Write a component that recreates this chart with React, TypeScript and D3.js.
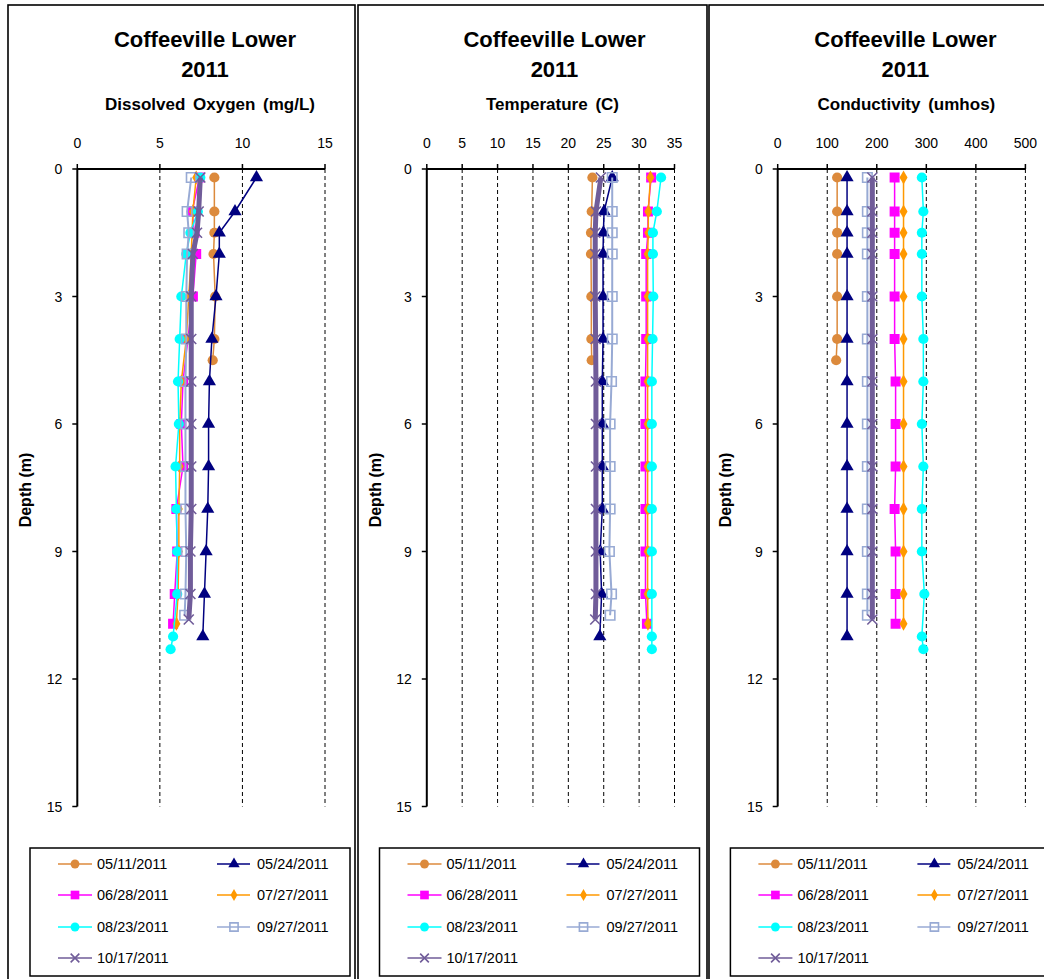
import React from "react";
import * as d3 from "d3";

// ---------- data ----------
const seriesNames = ["05/11/2011", "05/24/2011", "06/28/2011", "07/27/2011", "08/23/2011", "09/27/2011", "10/17/2011"];

const depth0511 = [0.2, 1, 1.5, 2, 3, 4, 4.5];
const depth0524 = [0.2, 1, 1.5, 2, 3, 4, 5, 6, 7, 8, 9, 10, 11];
const depth0628 = [0.2, 1, 1.5, 2, 3, 4, 5, 6, 7, 8, 9, 10, 10.7];
const depth0727 = [0.2, 1, 1.5, 2, 3, 4, 5, 6, 7, 8, 9, 10, 10.7];
const depth0823 = [0.2, 1, 1.5, 2, 3, 4, 5, 6, 7, 8, 9, 10, 11, 11.3];
const depth0927 = [0.2, 1, 1.5, 2, 3, 4, 5, 6, 7, 8, 9, 10, 10.5];
const depth1017 = [0.2, 1, 1.5, 2, 3, 4, 5, 6, 7, 8, 9, 10, 10.6];

const do0511 = [8.3, 8.3, 8.3, 8.25, 8.35, 8.3, 8.2];
const do0524 = [10.85, 9.55, 8.6, 8.6, 8.4, 8.15, 8.0, 7.95, 7.95, 7.9, 7.8, 7.7, 7.6];
const do0628 = [7.4, 6.95, 7.1, 7.2, 7.0, 6.7, 6.4, 6.3, 6.4, 6.0, 6.05, 5.9, 5.8];
const do0727 = [7.2, 7.0, 6.95, 6.9, 6.75, 6.6, 6.3, 6.2, 6.2, 6.15, 6.15, 6.1, 6.0];
const do0823 = [7.45, 7.3, 6.85, 6.6, 6.3, 6.2, 6.1, 6.15, 5.95, 6.0, 6.05, 6.05, 5.8, 5.65];
const do0927 = [6.9, 6.65, 6.75, 6.65, 6.6, 6.6, 6.55, 6.55, 6.55, 6.55, 6.6, 6.55, 6.5];
const do1017 = [7.45, 7.35, 7.25, 7.0, 6.9, 6.9, 6.9, 6.9, 6.9, 6.9, 6.85, 6.85, 6.75];

const temp0511 = [23.4, 23.3, 23.2, 23.2, 23.25, 23.25, 23.3];
const temp0524 = [26.2, 25.05, 24.95, 24.9, 24.9, 24.9, 24.8, 24.8, 24.8, 24.8, 24.5, 24.7, 24.45];
const temp0628 = [31.7, 31.25, 31.25, 31.0, 31.0, 31.0, 30.9, 30.9, 30.9, 30.9, 30.9, 30.9, 31.1];
const temp0727 = [31.6, 31.3, 31.3, 31.2, 31.2, 31.2, 31.2, 31.2, 31.2, 31.2, 31.2, 31.2, 31.25];
const temp0823 = [33.1, 32.5, 31.95, 31.95, 32.0, 31.9, 31.8, 31.8, 31.8, 31.8, 31.8, 31.8, 31.8, 31.8];
const temp0927 = [26.2, 26.2, 26.2, 26.2, 26.2, 26.2, 26.1, 25.9, 25.9, 25.9, 25.8, 26.1, 25.9];
const temp1017 = [24.6, 23.9, 23.8, 23.8, 23.8, 23.85, 23.9, 23.9, 23.9, 23.9, 23.9, 23.9, 23.8];

const cond0511 = [120, 120, 120, 120, 120, 120, 118];
const cond0524 = [140, 140, 140, 140, 140, 140, 140, 140, 140, 140, 140, 140, 140];
const cond0628 = [236, 236, 236, 236, 236, 236, 238, 238, 238, 236, 238, 238, 238];
const cond0727 = [254, 254, 254, 254, 254, 254, 254, 254, 254, 254, 254, 254, 254];
const cond0823 = [291, 294, 291, 291, 291, 294, 294, 291, 294, 291, 291, 296, 291, 294];
const cond0927 = [181, 181, 181, 181, 181, 181, 181, 181, 181, 181, 181, 181, 181];
const cond1017 = [191, 191, 191, 191, 191, 191, 191, 191, 191, 191, 191, 191, 191];

const depthTicks = [0, 3, 6, 9, 12, 15];
const doTicks = [0, 5, 10, 15];
const tempTicks = [0, 5, 10, 15, 20, 25, 30, 35];
const condTicks = [0, 100, 200, 300, 400, 500];

const chartTitle = "Coffeeville Lower";
const chartYear = "2011";
const panelTitles = ["Dissolved Oxygen (mg/L)", "Temperature (C)", "Conductivity (umhos)"];
const depthLabel = "Depth (m)";

// ---------- styles ----------
const depths = [depth0511, depth0524, depth0628, depth0727, depth0823, depth0927, depth1017];
const colors = ["#DC8A3C", "#000080", "#FF00FF", "#FF9900", "#00FFFF", "#98AAD4", "#705C99"];
const markerKinds = ["circle", "triangle", "square", "diamond", "circle", "openSquare", "x"];
const plotLineWidths = [1.5, 1.5, 1.5, 1.5, 1.5, 2, 5];

const FONT = "'Liberation Sans', Arial, sans-serif";

const panelDefs = [
  { values: [do0511, do0524, do0628, do0727, do0823, do0927, do1017], ticks: doTicks, dx: 0, sub: 210 },
  { values: [temp0511, temp0524, temp0628, temp0727, temp0823, temp0927, temp1017], ticks: tempTicks, dx: 349.5, sub: 203 },
  { values: [cond0511, cond0524, cond0628, cond0727, cond0823, cond0927, cond1017], ticks: condTicks, dx: 700.4, sub: 206 },
];

function Marker({ kind, x, y, color, scale = 1 }: { kind: string; x: number; y: number; color: string; scale?: number }) {
  if (kind === "circle") {
    return <path transform={`translate(${x},${y})`} d={d3.symbol(d3.symbolCircle, 82 * scale)()!} fill={color} />;
  }
  if (kind === "triangle") {
    return <path transform={`translate(${x},${y})`} d={d3.symbol(d3.symbolTriangle, 75 * scale)()!} fill={color} />;
  }
  if (kind === "square") {
    return <path transform={`translate(${x},${y})`} d={d3.symbol(d3.symbolSquare, 100 * scale)()!} fill={color} />;
  }
  if (kind === "diamond") {
    return <path transform={`translate(${x},${y})`} d={d3.symbol(d3.symbolDiamond, 55 * scale)()!} fill={color} />;
  }
  if (kind === "openSquare") {
    return (
      <path transform={`translate(${x},${y})`} d={d3.symbol(d3.symbolSquare, 90 * scale)()!} fill="none" stroke={color} strokeWidth={1.6} />
    );
  }
  const s = 5 * Math.sqrt(scale);
  return (
    <path
      d={`M${x - s},${y - s}L${x + s},${y + s}M${x - s},${y + s}L${x + s},${y - s}`}
      stroke={color}
      strokeWidth={1.6}
      fill="none"
    />
  );
}

function Panel({ def, idx }: { def: (typeof panelDefs)[number]; idx: number }) {
  const dx = def.dx;
  const left = 77.3 + dx;
  const right = 325 + dx;
  const top = 169;
  const bottom = 806.5;
  const x = d3.scaleLinear().domain([0, def.ticks[def.ticks.length - 1]]).range([left, right]);
  const y = d3.scaleLinear().domain([0, 15]).range([top, bottom]);
  const line = d3
    .line<[number, number]>()
    .x((d) => x(d[0]))
    .y((d) => y(d[1]));

  const legendRows = [864, 895, 927, 958];
  const legendCols = [
    { l0: 58, l1: 92, m: 75, t: 97 },
    { l0: 217, l1: 250, m: 234, t: 257 },
  ];

  return (
    <g>
      {/* frame */}
      <rect
        x={idx === 0 ? 8 : idx === 1 ? 358 : 709}
        y={5}
        width={idx === 0 ? 347 : idx === 1 ? 349 : 400}
        height={1000}
        fill="none"
        stroke="#000"
        strokeWidth={1.6}
      />
      {/* titles */}
      <text x={205 + dx} y={47} textAnchor="middle" fontFamily={FONT} fontWeight="bold" fontSize={22}>
        {chartTitle}
      </text>
      <text x={205 + dx} y={77} textAnchor="middle" fontFamily={FONT} fontWeight="bold" fontSize={22}>
        {chartYear}
      </text>
      <text x={def.sub + dx} y={110} textAnchor="middle" fontFamily={FONT} fontWeight="bold" fontSize={17} wordSpacing={3}>
        {panelTitles[idx]}
      </text>
      {/* grid */}
      {def.ticks.slice(1).map((t) => (
        <line key={"g" + t} x1={x(t)} x2={x(t)} y1={top} y2={bottom} stroke="#000" strokeWidth={1} strokeDasharray="4,3" />
      ))}
      {/* x axis (top) */}
      <line x1={left} x2={right} y1={top} y2={top} stroke="#000" strokeWidth={2} />
      {def.ticks.map((t) => (
        <g key={"xt" + t}>
          <line x1={x(t)} x2={x(t)} y1={top} y2={top - 5} stroke="#000" strokeWidth={1.5} />
          <text x={x(t)} y={148} textAnchor="middle" fontFamily={FONT} fontSize={14}>
            {t}
          </text>
        </g>
      ))}
      {/* y axis */}
      <line x1={left} x2={left} y1={top} y2={bottom} stroke="#000" strokeWidth={2} />
      {depthTicks.map((t) => (
        <g key={"yt" + t}>
          <line x1={left - 5} x2={left} y1={y(t)} y2={y(t)} stroke="#000" strokeWidth={1.5} />
          <text x={left - 15} y={y(t) + 5} textAnchor="end" fontFamily={FONT} fontSize={14}>
            {t}
          </text>
        </g>
      ))}
      <text
        transform={`translate(${31 + dx},${490}) rotate(-90)`}
        textAnchor="middle"
        fontFamily={FONT}
        fontWeight="bold"
        fontSize={16}
      >
        {depthLabel}
      </text>
      {/* series */}
      {def.values.map((vals, si) => {
        const pts: [number, number][] = vals.map((v, i) => [v, depths[si][i]]);
        return (
          <g key={"s" + si}>
            <path d={line(pts)!} fill="none" stroke={colors[si]} strokeWidth={plotLineWidths[si]} strokeLinejoin="round" />
            {pts.map((p, i) => (
              <Marker key={i} kind={markerKinds[si]} x={x(p[0])} y={y(p[1])} color={colors[si]} />
            ))}
          </g>
        );
      })}
      {/* legend */}
      <rect x={30 + dx} y={848} width={320} height={128} fill="#fff" stroke="#000" strokeWidth={1.5} />
      {seriesNames.map((name, si) => {
        const row = legendRows[Math.floor(si / 2)];
        const col = legendCols[si % 2];
        return (
          <g key={"l" + si}>
            <line x1={col.l0 + dx} x2={col.l1 + dx} y1={row} y2={row} stroke={colors[si]} strokeWidth={1.5} />
            <Marker kind={markerKinds[si]} x={col.m + dx} y={row} color={colors[si]} scale={0.75} />
            <text x={col.t + dx} y={row + 5} fontFamily={FONT} fontSize={14.5}>
              {name}
            </text>
          </g>
        );
      })}
    </g>
  );
}

export default function App() {
  return (
    <svg width={1044} height={979} style={{ position: "absolute", left: 0, top: 0, background: "#fff" }}>
      <rect x={0} y={0} width={1044} height={979} fill="#fff" />
      {panelDefs.map((def, i) => (
        <Panel key={i} def={def} idx={i} />
      ))}
    </svg>
  );
}
